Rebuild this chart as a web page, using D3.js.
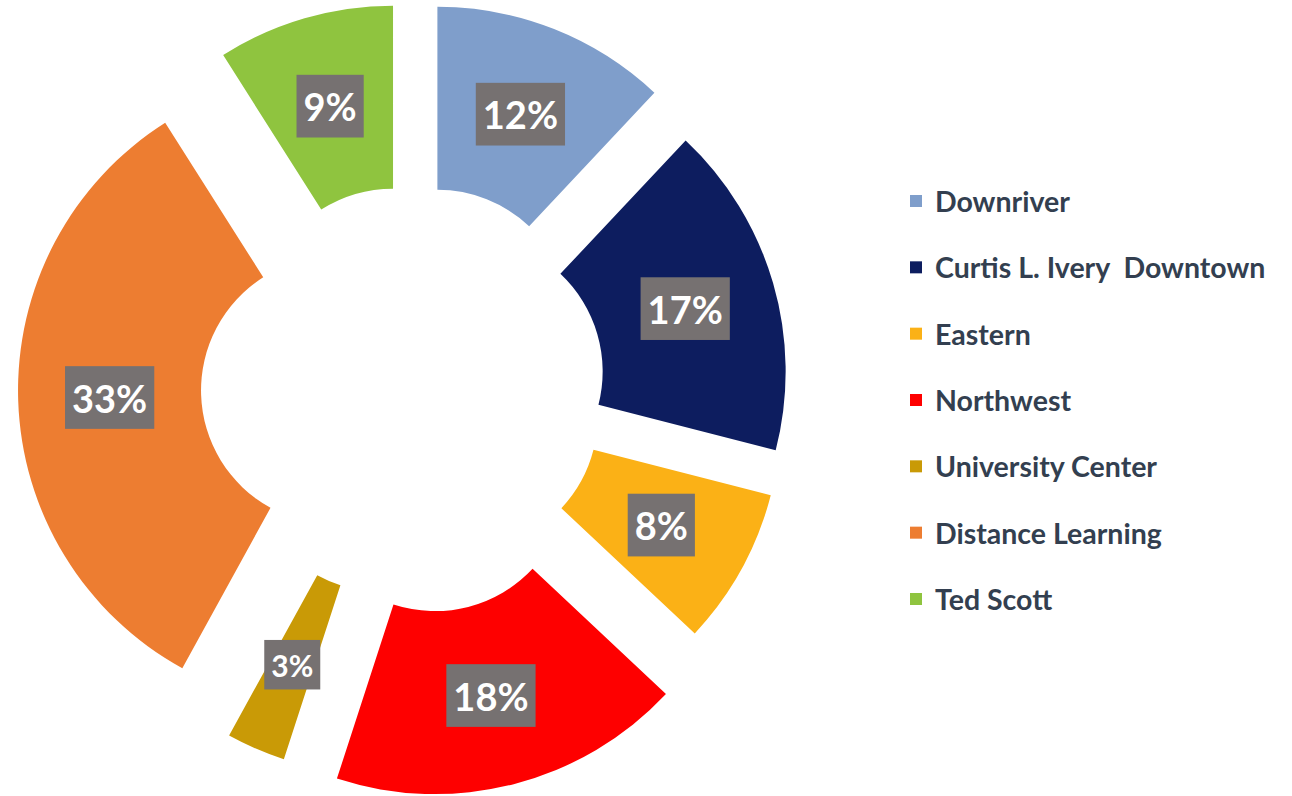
<!DOCTYPE html>
<html>
<head>
<meta charset="utf-8">
<script src="https://cdn.jsdelivr.net/npm/d3@7"></script>
<style>
  html, body { margin: 0; padding: 0; background: #ffffff; }
  svg { display: block; }
  text { font-family: Lato, "Open Sans", sans-serif; }
</style>
</head>
<body>
<svg id="chart" width="1292" height="796"></svg>
<script>
// Enrollment share by campus
const campuses = ["Downriver", "Curtis L. Ivery  Downtown", "Eastern", "Northwest",
                  "University Center", "Distance Learning", "Ted Scott"];
const shares = [12, 17, 8, 18, 3, 33, 9];
const sliceColors = ["#7f9ecb", "#0d1d5f", "#fbb116", "#fe0000", "#c99a06", "#ed7d31", "#8fc43f"];
// how far each slice is pulled out from the centre (px)
const explodeOffsets = [69, 59, 59, 92, 76, 77, 68];

const svg = d3.select("#chart");
const cx = 412, cy = 388;
const innerR = 134, outerR = 317;

const pie = d3.pie().sort(null).value(d => d.value).startAngle(0).endAngle(2 * Math.PI);
const arc = d3.arc().innerRadius(innerR).outerRadius(outerR);

const rows = campuses.map((name, i) => ({ name, value: shares[i], color: sliceColors[i], off: explodeOffsets[i] }));
const arcs = pie(rows);

const donut = svg.append("g").attr("transform", `translate(${cx},${cy})`);

const slice = donut.selectAll("g.slice")
  .data(arcs)
  .join("g")
  .attr("class", "slice")
  .attr("transform", d => {
    const mid = (d.startAngle + d.endAngle) / 2;
    return `translate(${Math.sin(mid) * d.data.off},${-Math.cos(mid) * d.data.off})`;
  });

slice.append("path")
  .attr("d", arc)
  .attr("fill", d => d.data.color);

// percentage labels on grey boxes
slice.each(function (d) {
  const g = d3.select(this);
  const [lx, ly] = arc.centroid(d);
  const small = d.data.value < 5;
  const fs = small ? 30 : 38;
  const lbl = g.append("g").attr("transform", `translate(${lx},${ly})`);
  const box = lbl.append("rect").attr("fill", "#767171");
  const t = lbl.append("text")
    .attr("text-anchor", "middle")
    .attr("dominant-baseline", "central")
    .attr("font-size", fs)
    .attr("font-weight", 700)
    .attr("fill", "#ffffff")
    .text(d.data.value + "%");
  const w = t.node().getComputedTextLength() + 14;
  const h = fs * 1.65;
  box.attr("x", -w / 2).attr("y", -h / 2).attr("width", w).attr("height", h);
});

// legend
const legendY = d3.scalePoint().domain(campuses).range([201, 599]);
const legend = svg.append("g");
const item = legend.selectAll("g")
  .data(rows)
  .join("g")
  .attr("transform", d => `translate(910,${legendY(d.name)})`);

item.append("rect")
  .attr("x", 0).attr("y", -6)
  .attr("width", 12).attr("height", 12)
  .attr("fill", d => d.color);

item.append("text")
  .attr("x", 25)
  .attr("dominant-baseline", "central")
  .attr("font-size", 28.5)
  .attr("font-weight", 700)
  .attr("fill", "#333f50")
  .style("white-space", "pre")
  .text(d => d.name);
</script>
</body>
</html>
